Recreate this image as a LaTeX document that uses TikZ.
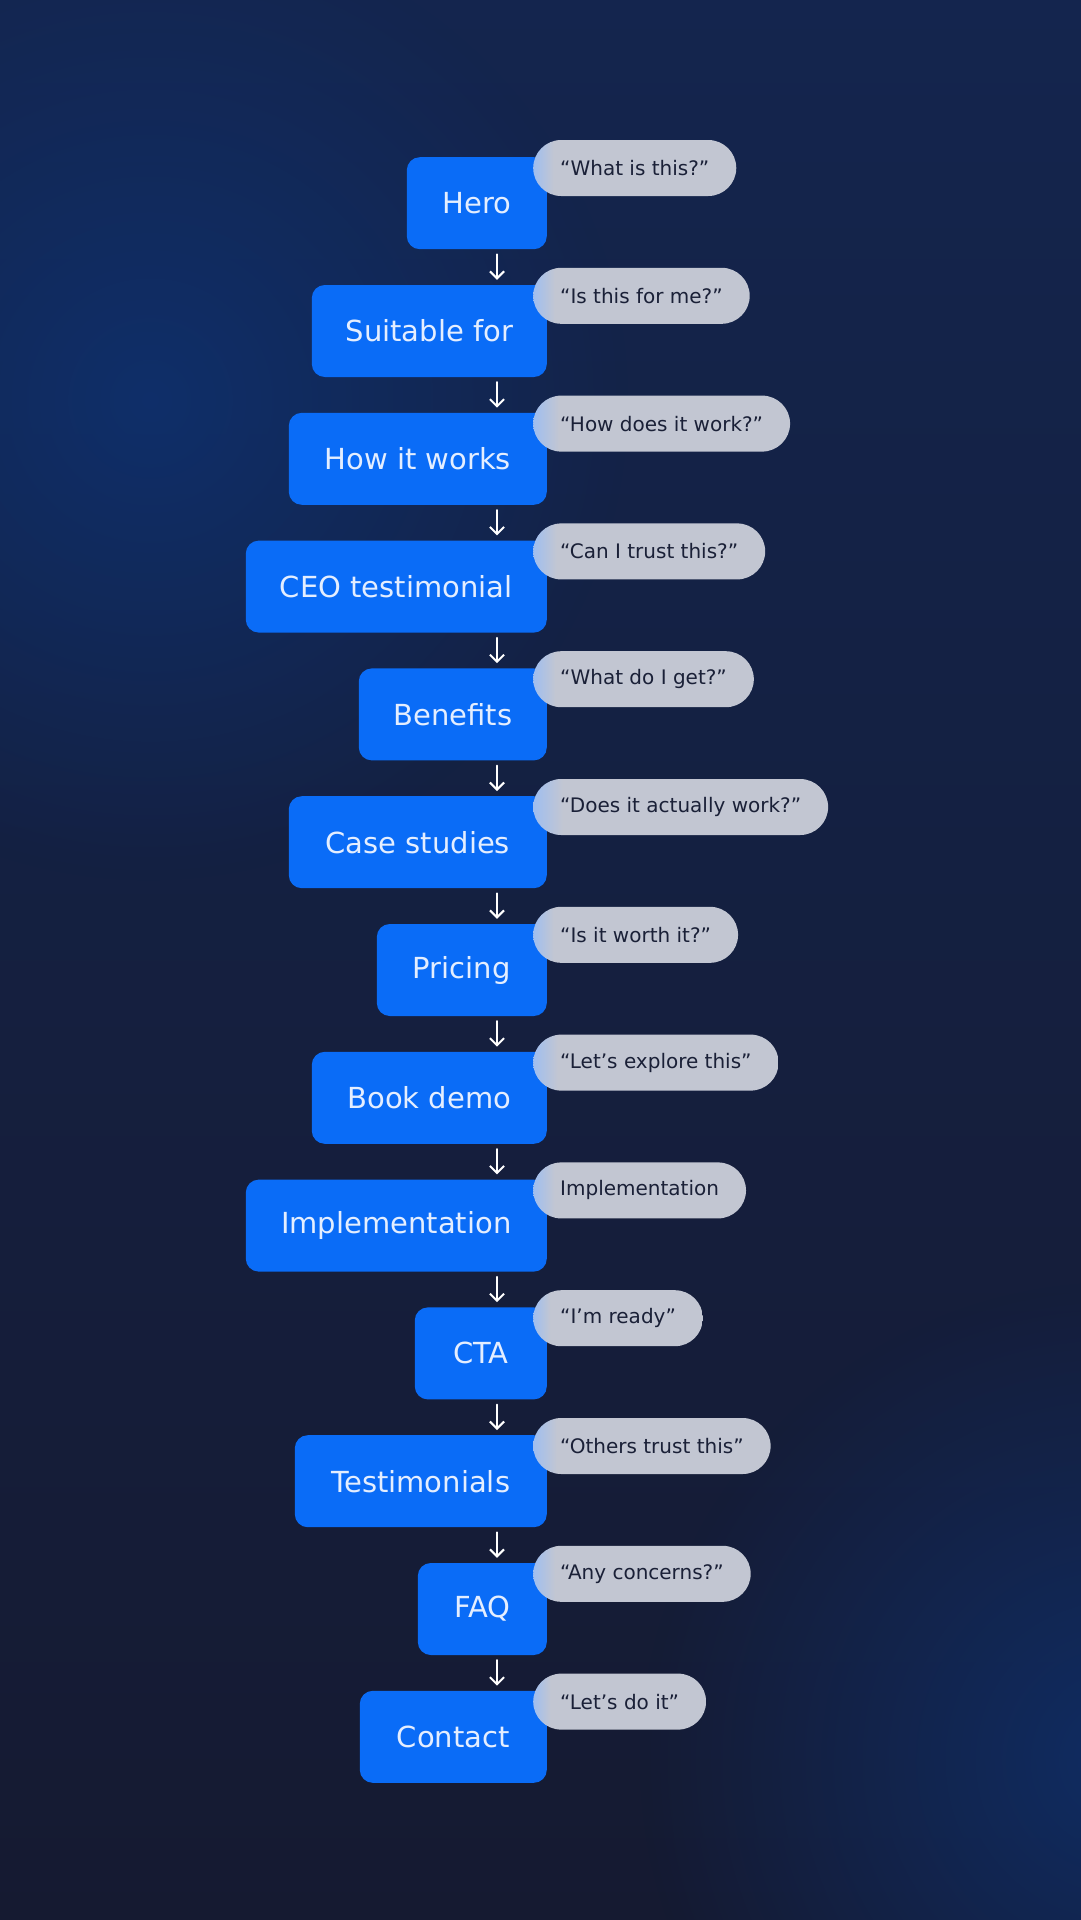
\documentclass[tikz,border=0pt]{standalone}
\usepackage{fontspec}
\setmainfont{DejaVu Sans}
\usepackage{tikz}
\usetikzlibrary{positioning, arrows.meta, fadings}

\definecolor{bgtop}{HTML}{14254E}
\definecolor{bgbot}{HTML}{151A31}
\definecolor{glowblue}{HTML}{0E3272}
\definecolor{sectblue}{HTML}{0A6CF7}
\definecolor{secttext}{HTML}{E4EEFF}
\definecolor{askgrey}{HTML}{C2C6D2}
\definecolor{askblue}{HTML}{9FBEF0}
\definecolor{asktext}{HTML}{1A2037}

\pgfdeclarehorizontalshading{bubbleshade}{100bp}{color(0bp)=(askblue);
  color(25bp)=(askblue); color(30bp)=(askgrey); color(100bp)=(askgrey)}
\tikzfading[name=glowfade, inner color=transparent!0, outer color=transparent!100]

\begin{document}
\begin{tikzpicture}[
  sect/.style={fill=sectblue, text=secttext, rounded corners=13pt,
    minimum height=92pt, inner xsep=0pt, anchor=north east,
    font=\fontsize{29}{34}\selectfont},
  ask/.style={shade, shading=bubbleshade, text=asktext, rounded corners=28pt,
    minimum height=56pt, inner xsep=27pt, font=\fontsize{20}{24}\selectfont},
  flow/.style={-{Straight Barb[angle=90:10pt]}, white, line width=2pt,
    line cap=round},
]
  % background
  \useasboundingbox (0,0) rectangle (1080pt,-1920pt);
  \shade[top color=bgtop, bottom color=bgbot] (-5pt,5pt) rectangle (1085pt,-1925pt);
  \fill[glowblue, path fading=glowfade, fill opacity=0.8] (150pt,-400pt) circle (480pt);
  \fill[glowblue, path fading=glowfade, fill opacity=0.75] (1120pt,-1760pt) circle (480pt);

  % page sections
  \node[sect, minimum width=140pt] (hero) at (547pt,-157pt) {Hero};
  \node[sect, minimum width=235pt, below=35.4pt of hero.south east, anchor=north east] (suitable) {Suitable for};
  \node[sect, minimum width=258pt, below=35.4pt of suitable.south east, anchor=north east] (works) {How it works};
  \node[sect, minimum width=301pt, below=35.4pt of works.south east, anchor=north east] (ceo) {CEO testimonial};
  \node[sect, minimum width=188pt, below=35.4pt of ceo.south east, anchor=north east] (benefits) {Benefits};
  \node[sect, minimum width=258pt, below=35.4pt of benefits.south east, anchor=north east] (cases) {Case studies};
  \node[sect, minimum width=170pt, below=35.4pt of cases.south east, anchor=north east] (pricing) {Pricing};
  \node[sect, minimum width=235pt, below=35.4pt of pricing.south east, anchor=north east] (demo) {Book demo};
  \node[sect, minimum width=301pt, below=35.4pt of demo.south east, anchor=north east] (impl) {Implementation};
  \node[sect, minimum width=132pt, below=35.4pt of impl.south east, anchor=north east] (cta) {CTA};
  \node[sect, minimum width=252pt, below=35.4pt of cta.south east, anchor=north east] (testi) {Testimonials};
  \node[sect, minimum width=129pt, below=35.4pt of testi.south east, anchor=north east] (faq) {FAQ};
  \node[sect, minimum width=187pt, below=35.4pt of faq.south east, anchor=north east] (contact) {Contact};

  % visitor questions
  \node[ask, right=-14pt of hero.north east, yshift=-11pt] (q-hero) {“What is this?”};
  \node[ask, right=-14pt of suitable.north east, yshift=-11pt] (q-suitable) {“Is this for me?”};
  \node[ask, right=-14pt of works.north east, yshift=-11pt] (q-works) {“How does it work?”};
  \node[ask, right=-14pt of ceo.north east, yshift=-11pt] (q-ceo) {“Can I trust this?”};
  \node[ask, right=-14pt of benefits.north east, yshift=-11pt] (q-benefits) {“What do I get?”};
  \node[ask, right=-14pt of cases.north east, yshift=-11pt] (q-cases) {“Does it actually work?”};
  \node[ask, right=-14pt of pricing.north east, yshift=-11pt] (q-pricing) {“Is it worth it?”};
  \node[ask, right=-14pt of demo.north east, yshift=-11pt] (q-demo) {“Let’s explore this”};
  \node[ask, right=-14pt of impl.north east, yshift=-11pt] (q-impl) {Implementation};
  \node[ask, right=-14pt of cta.north east, yshift=-11pt] (q-cta) {“I’m ready”};
  \node[ask, right=-14pt of testi.north east, yshift=-11pt] (q-testi) {“Others trust this”};
  \node[ask, right=-14pt of faq.north east, yshift=-11pt] (q-faq) {“Any concerns?”};
  \node[ask, right=-14pt of contact.north east, yshift=-11pt] (q-contact) {“Let’s do it”};

  \foreach \a/\b in {hero/suitable, suitable/works, works/ceo, ceo/benefits,
                     benefits/cases, cases/pricing, pricing/demo, demo/impl,
                     impl/cta, cta/testi, testi/faq, faq/contact}
    \draw[flow] ([xshift=-50pt, yshift=-5pt]\a.south east) -- ([xshift=-50pt, yshift=5pt]\b.north east);
\end{tikzpicture}
\end{document}
